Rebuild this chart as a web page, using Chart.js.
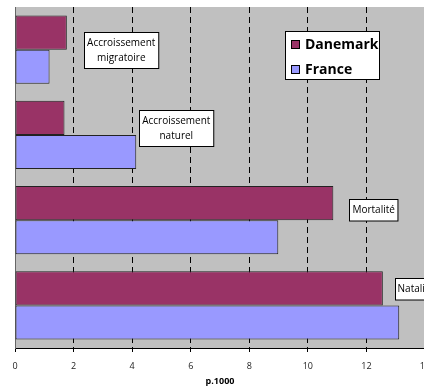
<!DOCTYPE html>
<html>
<head>
<meta charset="utf-8">
<script src="https://cdn.jsdelivr.net/npm/chart.js@4.4.1/dist/chart.umd.min.js"></script>
<style>
  html, body { margin: 0; padding: 0; background: #fff; overflow: hidden; }
</style>
</head>
<body>
<canvas id="chart" width="430" height="389"></canvas>
<script>
const categories = [["Accroissement", "migratoire"], ["Accroissement", "naturel"], ["Mortalité"], ["Natalité"]];
const danemark = [1.77, 1.69, 10.87, 12.56];
const france = [1.18, 4.14, 8.99, 13.12];
const xTicks = [0, 2, 4, 6, 8, 10, 12, 14];

const FONT = "'Open Sans', 'DejaVu Sans', sans-serif";

// grey plot area
const plotBg = {
  id: "plotBg",
  beforeDraw(chart) {
    const { ctx, chartArea: a } = chart;
    ctx.save();
    ctx.fillStyle = "#c0c0c0";
    ctx.fillRect(a.left, a.top, a.right - a.left, a.bottom - a.top);
    ctx.restore();
  }
};

// white boxed category names next to the bars
const catBoxes = {
  id: "catBoxes",
  afterDatasetsDraw(chart, args, opts) {
    const { ctx } = chart;
    const xs = chart.scales.x, ys = chart.scales.y;
    ctx.save();
    ctx.font = "10px " + FONT;
    ctx.textAlign = "center";
    ctx.textBaseline = "middle";
    categories.forEach((lines, i) => {
      const left = xs.getPixelForValue(opts.at[i][0]);
      const cy = ys.getPixelForValue(i) + opts.at[i][1];
      const w = Math.max(...lines.map(l => ctx.measureText(l).width)) + 6;
      const lh = 14.5;
      const h = lines.length * lh + 7;
      const top = Math.round(cy - h / 2) + 0.5;
      ctx.fillStyle = "#fff";
      ctx.fillRect(Math.round(left) + 0.5, top, w, h);
      ctx.strokeStyle = "#000";
      ctx.lineWidth = 1;
      ctx.strokeRect(Math.round(left) + 0.5, top, w, h);
      ctx.fillStyle = "#000";
      lines.forEach((l, k) => {
        ctx.fillText(l, left + w / 2, top + 3.5 + lh * (k + 0.5));
      });
    });
    ctx.restore();
  }
};

// legend box inside the plot
const boxLegend = {
  id: "boxLegend",
  afterDatasetsDraw(chart, args, opts) {
    const { ctx } = chart;
    const x = opts.x, y = opts.y;
    ctx.save();
    ctx.fillStyle = "#fff";
    ctx.fillRect(x + 0.5, y + 0.5, 94, 48);
    ctx.strokeStyle = "#000";
    ctx.lineWidth = 1;
    ctx.strokeRect(x + 0.5, y + 0.5, 94, 48);
    ctx.font = "bold 14px " + FONT;
    ctx.textBaseline = "middle";
    chart.data.datasets.forEach((ds, i) => {
      const cy = y + 13.5 + i * 25;
      ctx.fillStyle = ds.backgroundColor;
      ctx.fillRect(x + 6.5, cy - 4, 8, 8);
      ctx.strokeStyle = "#000";
      ctx.strokeRect(x + 6.5, cy - 4, 8, 8);
      ctx.fillStyle = "#000";
      ctx.fillText(ds.label, x + 20, cy + 1);
    });
    ctx.restore();
  }
};

new Chart(document.getElementById("chart"), {
  type: "bar",
  data: {
    labels: categories,
    datasets: [
      { label: "Danemark", data: danemark, backgroundColor: "#993366", borderColor: "#222", borderWidth: 1, borderSkipped: false },
      { label: "France", data: france, backgroundColor: "#9999ff", borderColor: "#222", borderWidth: 1, borderSkipped: false }
    ]
  },
  options: {
    indexAxis: "y",
    responsive: false,
    devicePixelRatio: 1,
    animation: false,
    layout: { padding: { top: 7, right: 5, left: 0, bottom: 0 } },
    datasets: { bar: { categoryPercentage: 0.8, barPercentage: 1.0 } },
    scales: {
      x: {
        min: 0,
        max: 14,
        afterBuildTicks: s => { s.ticks = xTicks.map(v => ({ value: v })); },
        afterFit: s => { s.height = 41; s.paddingLeft = 0; s.paddingRight = 0; },
        grid: {
          color: c => (c.tick && c.tick.value > 0 ? "#000" : "rgba(0,0,0,0)"),
          lineWidth: 1,
          tickColor: "#000",
          tickLength: 4,
          drawTicks: true
        },
        border: { color: "#000", width: 1, dash: [6, 4] },
        ticks: { font: { family: FONT, size: 9 }, color: "#222", padding: 9 },
        title: { display: true, text: "p.1000", font: { family: FONT, size: 9, weight: "bold" }, color: "#000", padding: { top: 0, bottom: 2 } }
      },
      y: {
        afterFit: s => { s.width = 15; s.paddingTop = 0; s.paddingBottom = 0; },
        grid: { display: false },
        border: { color: "#666", width: 1 },
        ticks: { display: false }
      }
    },
    plugins: {
      legend: { display: false },
      tooltip: { enabled: false },
      boxLegend: { x: 285, y: 31 },
      catBoxes: { at: [[2.36, 0], [4.24, -7], [11.42, -10], [12.96, -17]] }
    }
  },
  plugins: [plotBg, catBoxes, boxLegend]
});
</script>
</body>
</html>
